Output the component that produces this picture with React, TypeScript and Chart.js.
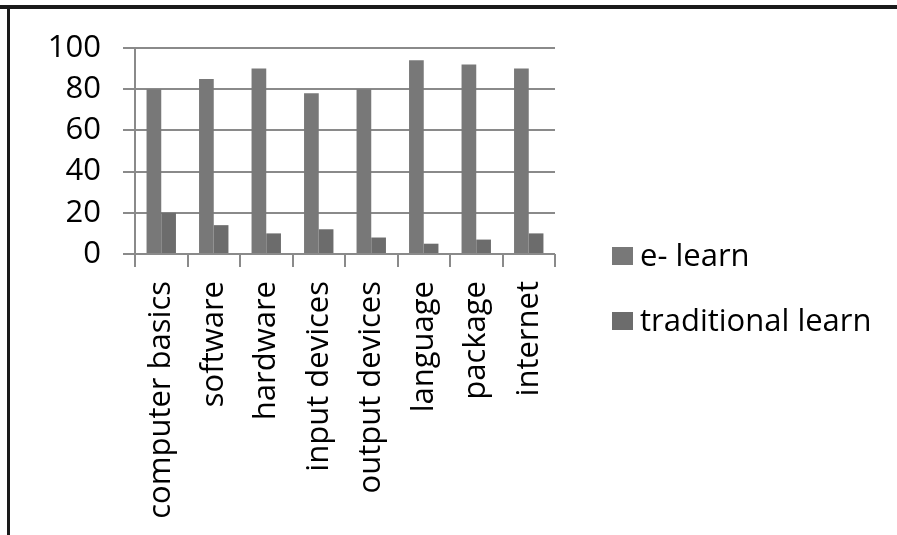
import React, { useEffect, useRef } from "react";
import { Chart, registerables } from "chart.js";

Chart.register(...registerables);

const categories = [
  "computer basics",
  "software",
  "hardware",
  "input devices",
  "output devices",
  "language",
  "package",
  "internet",
];
const eLearn = [80, 85, 90, 78, 80, 94, 92, 90];
const traditionalLearn = [20, 14, 10, 12, 8, 5, 7, 10];
const seriesNames = ["e- learn", "traditional learn"];
const seriesColors = ["#787878", "#6c6c6c"];
const yTicks = [0, 20, 40, 60, 80, 100];

const FONT_FAMILY = "'Open Sans', sans-serif";
const FONT_SIZE = 31;

export default function App() {
  const ref = useRef<HTMLCanvasElement | null>(null);

  useEffect(() => {
    if (!ref.current) return;
    const font = { family: FONT_FAMILY, size: FONT_SIZE };
    const chart = new Chart(ref.current, {
      type: "bar",
      data: {
        labels: categories,
        datasets: [
          {
            label: seriesNames[0],
            data: eLearn,
            backgroundColor: seriesColors[0],
            borderWidth: 0,
            categoryPercentage: 0.56,
            barPercentage: 1.0,
          },
          {
            label: seriesNames[1],
            data: traditionalLearn,
            backgroundColor: seriesColors[1],
            borderWidth: 0,
            categoryPercentage: 0.56,
            barPercentage: 1.0,
          },
        ],
      },
      options: {
        animation: false,
        responsive: true,
        maintainAspectRatio: false,
        layout: { padding: { top: 48, left: 0, right: 342, bottom: 7 } },
        plugins: {
          legend: { display: false },
          tooltip: { enabled: false },
        },
        scales: {
          x: {
            offset: true,
            grid: {
              display: true,
              offset: true,
              drawOnChartArea: false,
              drawTicks: true,
              tickLength: 13,
              color: "#8a8a8a",
              lineWidth: 2,
            },
            border: { display: false },
            ticks: {
              font,
              color: "#000",
              minRotation: 90,
              maxRotation: 90,
              padding: 14,
              autoSkip: false,
            },
            afterFit: (s: any) => {
              s.height = 274;
            },
          },
          y: {
            min: 0,
            max: 100,
            afterBuildTicks: (s: any) => {
              s.ticks = yTicks.map((v) => ({ value: v }));
            },
            grid: {
              color: "#8a8a8a",
              lineWidth: 2,
              tickLength: 12,
            },
            border: { display: true, color: "#8a8a8a", width: 2 },
            ticks: {
              font,
              color: "#000",
              padding: 22,
            },
            afterFit: (s: any) => {
              s.width = 135;
            },
          },
        },
      },
    } as any);
    return () => chart.destroy();
  }, []);

  const legendRows = [
    { boxTop: 247, textTop: 239 },
    { boxTop: 312, textTop: 304 },
  ];

  return (
    <div
      style={{
        position: "absolute",
        left: 0,
        top: 0,
        width: 897,
        height: 535,
        background: "#fff",
        overflow: "hidden",
      }}
    >
      <div style={{ position: "absolute", left: 0, top: 0, width: 897, height: 535 }}>
        <canvas ref={ref} />
      </div>
      <div
        style={{
          position: "absolute",
          left: 0,
          top: 5,
          width: 897,
          height: 4,
          background: "#1a1a1a",
        }}
      />
      <div
        style={{
          position: "absolute",
          left: 7,
          top: 5,
          width: 3,
          height: 530,
          background: "#1a1a1a",
        }}
      />
      {seriesNames.map((name, i) => (
        <React.Fragment key={name}>
          <div
            style={{
              position: "absolute",
              left: 612,
              top: legendRows[i].boxTop,
              width: 21,
              height: 18,
              background: seriesColors[i],
            }}
          />
          <div
            style={{
              position: "absolute",
              left: 640,
              top: legendRows[i].textTop,
              fontFamily: FONT_FAMILY,
              fontSize: FONT_SIZE,
              lineHeight: FONT_SIZE + "px",
              color: "#000",
              whiteSpace: "nowrap",
            }}
          >
            {name}
          </div>
        </React.Fragment>
      ))}
    </div>
  );
}
